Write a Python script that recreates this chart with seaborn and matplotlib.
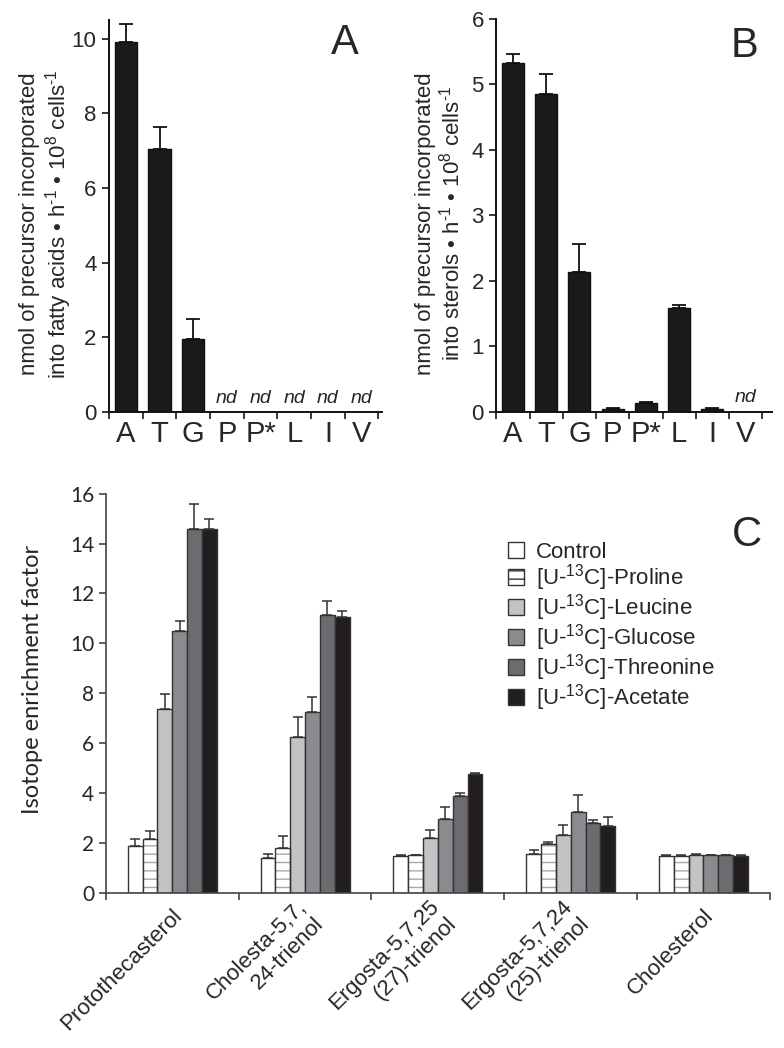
import numpy as np
import pandas as pd
import matplotlib
matplotlib.use('Agg')
import matplotlib.pyplot as plt
from matplotlib.patches import Patch, Rectangle
from matplotlib.ticker import FixedLocator, MultipleLocator
from matplotlib.transforms import ScaledTranslation
import seaborn as sns

sns.set_style('ticks')
plt.rcParams['font.family'] = ['Liberation Sans', 'DejaVu Sans']
plt.rcParams['mathtext.fontset'] = 'custom'
plt.rcParams['mathtext.rm'] = 'Liberation Sans'
plt.rcParams['mathtext.it'] = 'Liberation Sans:italic'

# ---- panel A / B data (nan = not detected) ----
precursors = ['A', 'T', 'G', 'P', 'P*', 'L', 'I', 'V']
fatty_mean = [9.90, 7.05, 1.95, np.nan, np.nan, np.nan, np.nan, np.nan]
fatty_err = [0.50, 0.57, 0.55, np.nan, np.nan, np.nan, np.nan, np.nan]
sterol_mean = [5.32, 4.86, 2.14, 0.05, 0.13, 1.58, 0.05, np.nan]
sterol_err = [0.14, 0.30, 0.42, 0.015, 0.02, 0.05, 0.015, np.nan]

# ---- panel C data ----
sterols = ['Protothecasterol', 'Cholesta-5,7,\n24-trienol', 'Ergosta-5,7,25\n(27)-trienol',
           'Ergosta-5,7,24\n(25)-trienol', 'Cholesterol']
tracers = ['Control', '[U-$^{13}$C]-Proline', '[U-$^{13}$C]-Leucine', '[U-$^{13}$C]-Glucose',
           '[U-$^{13}$C]-Threonine', '[U-$^{13}$C]-Acetate']
control = [1.87, 1.40, 1.47, 1.55, 1.49]
control_err = [0.30, 0.15, 0.03, 0.16, 0.03]
proline = [2.15, 1.80, 1.50, 1.97, 1.49]
proline_err = [0.32, 0.47, 0.03, 0.08, 0.02]
leucine = [7.38, 6.25, 2.19, 2.30, 1.52]
leucine_err = [0.59, 0.80, 0.34, 0.43, 0.03]
glucose = [10.50, 7.25, 2.97, 3.24, 1.50]
glucose_err = [0.40, 0.60, 0.48, 0.68, 0.02]
threonine = [14.58, 11.12, 3.89, 2.81, 1.50]
threonine_err = [1.02, 0.58, 0.11, 0.12, 0.02]
acetate = [14.58, 11.05, 4.77, 2.68, 1.46]
acetate_err = [0.39, 0.25, 0.03, 0.37, 0.05]
tracer_colors = ['#ffffff', '#ffffff', '#c3c3c5', '#8b8b8f', '#6b6b70', '#221e20']

fig = plt.figure(figsize=(7.84, 10.48), dpi=100)


def incorporation_panel(ax, means, errs, ymax, ystep, xmax, ylabel, nd_y, letter, letter_xy):
    sns.barplot(x=precursors, y=means, order=precursors, color='#1a1a1a', saturation=1,
                width=0.66, edgecolor='#111111', linewidth=1, errorbar=None, ax=ax)
    xs = np.arange(len(precursors))
    m = np.array(means)
    e = np.array(errs)
    ax.errorbar(xs, m, yerr=[np.zeros_like(e), e], fmt='none', ecolor='#111111',
                elinewidth=1.3, capsize=4.7, capthick=1.3)
    for i, v in enumerate(means):
        if np.isnan(v):
            ax.text(i, nd_y, 'nd', ha='center', va='baseline', style='italic', fontsize=14)
    ax.set_xlim(-0.5, xmax)
    ax.set_ylim(0, ymax)
    ax.yaxis.set_major_locator(MultipleLocator(ystep))
    ax.xaxis.set_minor_locator(FixedLocator(np.arange(-0.5, len(precursors), 1.0)))
    ax.tick_params(axis='x', which='major', length=0, labelsize=21, pad=6)
    ax.tick_params(axis='x', which='minor', length=5, width=1.3, direction='out')
    ax.tick_params(axis='y', length=5, width=1.3, labelsize=16, pad=4)
    for s in ['top', 'right']:
        ax.spines[s].set_visible(False)
    for s in ['left', 'bottom']:
        ax.spines[s].set_linewidth(1.4)
        ax.spines[s].set_color('#111111')
    ax.set_xlabel('')
    ax.set_ylabel(ylabel, fontsize=16, linespacing=1.15)
    ax.yaxis.label.set_va('center')
    fig.text(letter_xy[0], letter_xy[1], letter, fontsize=30, ha='center', va='center')


ax_a = fig.add_axes([0.139, 0.607, 0.348, 0.374])
incorporation_panel(ax_a, fatty_mean, fatty_err, 10.5, 2, 7.6,
                    'nmol of precursor incorporated\ninto fatty acids \u2022 h$^{\\text{-1}}$ \u2022 10$^{8}$ cells$^{\\text{-1}}$',
                    0.24, 'A', (345 / 784, 1 - 43 / 1048))
ax_a.yaxis.set_label_coords(-0.228, 0.48)

ax_b = fig.add_axes([0.633, 0.607, 0.352, 0.375])
incorporation_panel(ax_b, sterol_mean, sterol_err, 6, 1, 7.8,
                    'nmol of precursor incorporated\ninto sterols \u2022 h$^{\\text{-1}}$ \u2022 10$^{8}$ cells$^{\\text{-1}}$',
                    0.15, 'B', (744 / 784, 1 - 46 / 1048))
ax_b.yaxis.set_label_coords(-0.205, 0.48)

# ---- panel C ----
values = [control, proline, leucine, glucose, threonine, acetate]
errors = [control_err, proline_err, leucine_err, glucose_err, threonine_err, acetate_err]
rows = []
for t, vals, errs in zip(tracers, values, errors):
    for s, v, e in zip(sterols, vals, errs):
        rows.append({'sterol': s, 'tracer': t, 'value': v, 'err': e})
dfc = pd.DataFrame(rows)

ax_c = fig.add_axes([0.135, 0.148, 0.847, 0.381])
sns.barplot(data=dfc, x='sterol', y='value', hue='tracer', order=sterols, hue_order=tracers,
            palette=tracer_colors, saturation=1, width=0.67, gap=0, edgecolor='#333333',
            linewidth=1, errorbar=None, legend=False, ax=ax_c)

bar_containers = list(ax_c.containers)
for k, cont in enumerate(bar_containers):
    sub = dfc[dfc.tracer == tracers[k]]
    xs = [p.get_x() + p.get_width() / 2 for p in cont]
    hs = [p.get_height() for p in cont]
    ax_c.errorbar(xs, hs, yerr=[np.zeros(len(hs)), sub.err.values], fmt='none',
                  ecolor='#333333', elinewidth=1.1, capsize=3.6, capthick=1.1)
    if k == 1:
        for p in cont:
            p.set_hatch('--')
            p.set_edgecolor('#a8a8a8')
            p.set_linewidth(0)
            ax_c.add_patch(Rectangle(p.get_xy(), p.get_width(), p.get_height(), fill=False,
                                     edgecolor='#333333', linewidth=1, zorder=p.get_zorder() + 0.1))

ax_c.set_xlim(-0.5, 4.5)
ax_c.set_ylim(0, 16)
ax_c.yaxis.set_major_locator(MultipleLocator(2))
ax_c.xaxis.set_minor_locator(FixedLocator(np.arange(-0.5, 5, 1.0)))
ax_c.tick_params(axis='x', which='major', length=0, labelsize=16, pad=14)
ax_c.tick_params(axis='x', which='minor', length=5, width=1.2, direction='out', color='#444444')
ax_c.tick_params(axis='y', length=5, width=1.2, color='#444444', labelsize=15)
for lab in ax_c.get_yticklabels():
    lab.set_family(['Lato', 'DejaVu Sans'])
shift = ScaledTranslation(7 / 100, 0, fig.dpi_scale_trans)
for lab in ax_c.get_xticklabels():
    lab.set_rotation(45)
    lab.set_ha('right')
    lab.set_va('center')
    lab.set_rotation_mode('anchor')
    lab.set_multialignment('right')
    lab.set_transform(lab.get_transform() + shift)
for s in ['top', 'right']:
    ax_c.spines[s].set_visible(False)
for s in ['left', 'bottom']:
    ax_c.spines[s].set_linewidth(1.2)
    ax_c.spines[s].set_color('#444444')
ax_c.set_xlabel('')
ax_c.set_ylabel('Isotope enrichment factor', fontsize=17, family=['Lato', 'DejaVu Sans'])
ax_c.yaxis.label.set_va('center')
ax_c.yaxis.set_label_coords(-0.111, 0.534)

handles = []
for t, c in zip(tracers, tracer_colors):
    h = Patch(facecolor=c, edgecolor='#333333', linewidth=1, label=t)
    if 'Proline' in t:
        h.set_hatch('--')
    handles.append(h)
ax_c.legend(handles=handles, loc='upper left', bbox_to_anchor=(508 / 784, 1 - 542 / 1048),
            bbox_transform=fig.transFigure, frameon=False, fontsize=16, handlelength=0.72,
            handleheight=0.72, handletextpad=0.55, labelspacing=-0.04, borderpad=0, borderaxespad=0)
fig.text(747 / 784, 1 - 535 / 1048, 'C', fontsize=30, ha='center', va='center')

fig.savefig('out.png', dpi=100)
